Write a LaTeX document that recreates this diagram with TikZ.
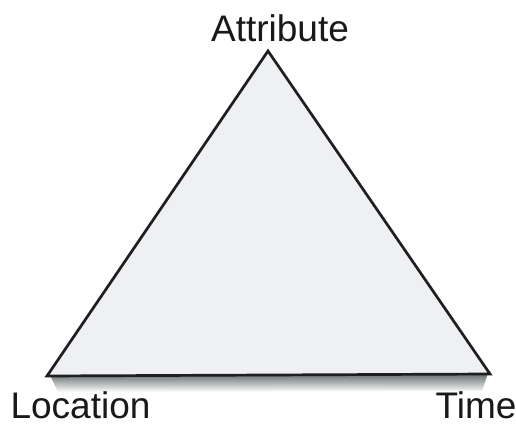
\documentclass[tikz,border=0pt]{standalone}
\usepackage{fontspec}
\setmainfont{Liberation Sans}
\definecolor{trifill}{HTML}{EEF0F4}
\definecolor{shadowtop}{HTML}{5E6868}
\tikzset{
  lbl/.style={font=\fontsize{37}{40}\selectfont, text=black!90, inner sep=0pt, text depth=0pt, anchor=base},
  tri/.style={draw=black!88, line width=2.7pt, fill=trifill, line join=miter}
}
\begin{document}
\begin{tikzpicture}[x=1pt,y=1pt]
\useasboundingbox (0,0) rectangle (516,423);
\fill[white] (0,0) rectangle (516,423);
% coordinates (pixel y flipped)
\coordinate (A) at (268,372);
\coordinate (L) at (47,47);
\coordinate (T) at (490,49);
% shadow below bottom edge
\shade[top color=shadowtop, bottom color=white]
  (50,48) -- (488,50) -- (482,32) -- (58,31) -- cycle;
\draw[tri] (A) -- (L) -- (T) -- cycle;
\node[lbl] (attr) at (280,381) {Attribute};
\node[lbl] (loc) at (80.5,5) {Location};
\node[lbl] (time) at (476,5) {Time};
\end{tikzpicture}
\end{document}
